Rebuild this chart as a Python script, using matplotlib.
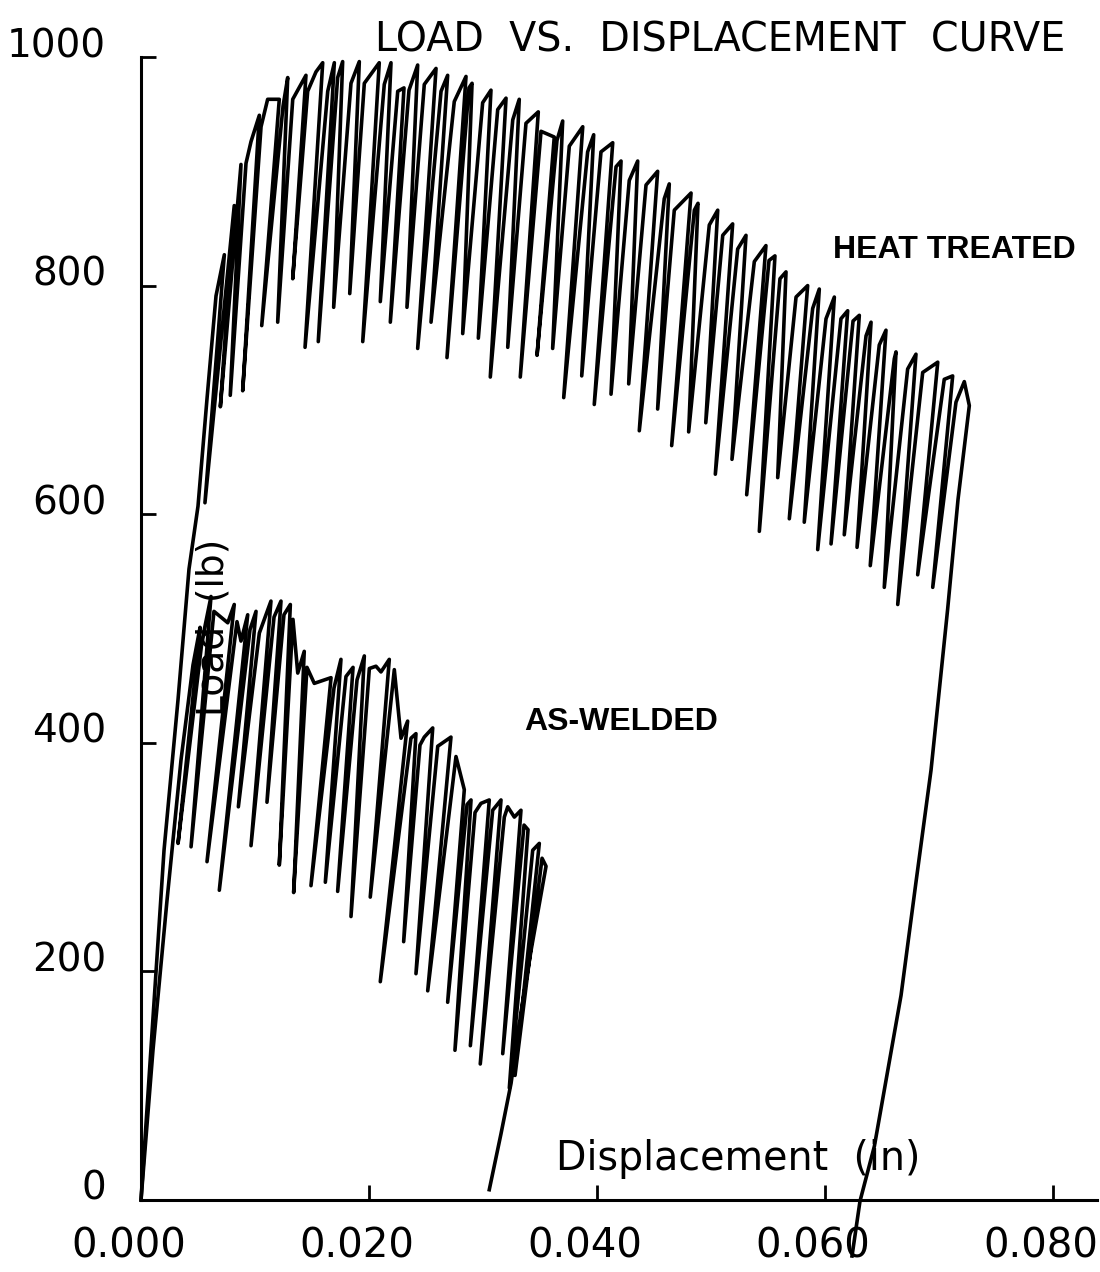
import matplotlib
matplotlib.use("Agg")
import matplotlib.pyplot as plt
import matplotlib.transforms as mtransforms

# heat treated specimen: load path in drawing order (peak -> unload -> reload ...)
ht_disp = [0.0, 0.00202, 0.00325, 0.00421, 0.00500, 0.00579, 0.00658,
           0.00731, 0.00561, 0.00818, 0.00696, 0.00877, 0.00783, 0.00921, 0.00965,
           0.01038, 0.00892, 0.01053, 0.01111, 0.01213, 0.01059, 0.01246,
           0.01287, 0.01199, 0.01331, 0.01447, 0.01331, 0.01462, 0.01535,
           0.01594, 0.01439, 0.01638, 0.01696, 0.01555, 0.01725, 0.01769, 0.01690,
           0.01842, 0.01915, 0.01831, 0.01959, 0.02090, 0.01945, 0.02134,
           0.02193, 0.02099, 0.02252, 0.02307, 0.02187, 0.02351, 0.02427, 0.02333,
           0.02485, 0.02588, 0.02427, 0.02632, 0.02690, 0.02544, 0.02748,
           0.02851, 0.02684, 0.02877, 0.02904, 0.02822, 0.02997, 0.03070, 0.02959,
           0.03129, 0.03202, 0.03064, 0.03261, 0.03318, 0.03217, 0.03377,
           0.03485, 0.03327, 0.03509, 0.03625, 0.03474, 0.03649, 0.03699, 0.03611,
           0.03757, 0.03875, 0.03708, 0.03918, 0.03971, 0.03866, 0.04035,
           0.04138, 0.03976, 0.04167, 0.04211, 0.04123, 0.04283, 0.04357, 0.04278,
           0.04430, 0.04532, 0.04371, 0.04590, 0.04634, 0.04532, 0.04678,
           0.04825, 0.04655, 0.04854, 0.04886, 0.04804, 0.04985, 0.05059, 0.04954,
           0.05103, 0.05190, 0.05038, 0.05234, 0.05307, 0.05184, 0.05380,
           0.05482, 0.05313, 0.05509, 0.05561, 0.05424, 0.05605, 0.05658, 0.05585,
           0.05746, 0.05848, 0.05687, 0.05892, 0.05950, 0.05818, 0.06009,
           0.06082, 0.05936, 0.06140, 0.06199, 0.06053, 0.06246, 0.06301, 0.06169,
           0.06360, 0.06404, 0.06281, 0.06476, 0.06535, 0.06397, 0.06608,
           0.06623, 0.06520, 0.06725, 0.06798, 0.06638, 0.06857, 0.06989, 0.06813,
           0.07046, 0.07120, 0.06945, 0.07149, 0.07222, 0.07266,
           0.07167, 0.07076, 0.06930, 0.06798, 0.06667, 0.06550, 0.06433, 0.06307, 0.06237]
ht_load = [0, 306, 438, 552, 607, 701, 791,
           827, 610, 870, 694, 906, 704, 907, 926,
           949, 708, 939, 963, 963, 765, 957,
           982, 768, 963, 984, 806, 970, 987,
           995, 746, 970, 995, 751, 982, 996, 781,
           977, 996, 793, 977, 995, 751, 976,
           995, 786, 970, 973, 768, 971, 993, 781,
           976, 990, 745, 970, 984, 768, 961,
           983, 737, 973, 977, 758, 960, 971, 754,
           954, 964, 720, 945, 963, 746, 942,
           952, 720, 935, 930, 739, 927, 944, 745,
           922, 939, 702, 917, 932, 721, 917,
           925, 696, 904, 909, 705, 892, 909, 714,
           888, 900, 673, 876, 889, 692, 866,
           881, 660, 866, 872, 672, 853, 866, 680,
           844, 854, 635, 832, 844, 648, 821,
           835, 617, 822, 826, 585, 806, 812, 632,
           790, 800, 596, 780, 797, 593, 771,
           790, 569, 771, 778, 574, 769, 774, 582,
           756, 768, 571, 748, 761, 555, 736,
           742, 536, 727, 740, 521, 724, 733, 547,
           718, 721, 536, 698, 716, 695,
           613, 517, 376, 278, 179, 113, 47, -1, -49]

# as-welded specimen
aw_disp = [0.0, 0.00105, 0.00228, 0.00351, 0.00456,
           0.00518, 0.00325, 0.00535, 0.00614, 0.00439, 0.00640, 0.00761,
           0.00818, 0.00579, 0.00842, 0.00877, 0.00936, 0.00687, 0.00956,
           0.01009, 0.00854, 0.01038, 0.01140, 0.00965, 0.01167,
           0.01228, 0.01105, 0.01254, 0.01310, 0.01213, 0.01333, 0.01375,
           0.01432, 0.01339, 0.01456, 0.01520, 0.01667, 0.01491, 0.01693,
           0.01754, 0.01617, 0.01798, 0.01860, 0.01725, 0.01895,
           0.01959, 0.01842, 0.02003, 0.02061, 0.02105,
           0.02178, 0.02011, 0.02222, 0.02281, 0.02339, 0.02099, 0.02368,
           0.02412, 0.02304, 0.02447, 0.02485, 0.02559, 0.02412, 0.02603,
           0.02719, 0.02515, 0.02763, 0.02836, 0.02690, 0.02860,
           0.02895, 0.02754, 0.02930, 0.02982, 0.03055, 0.02889, 0.03085,
           0.03158, 0.02976, 0.03187, 0.03217, 0.03275,
           0.03333, 0.03173, 0.03360, 0.03395, 0.03231, 0.03436,
           0.03494, 0.03281, 0.03518, 0.03553,
           0.03421, 0.03333, 0.03246, 0.03158, 0.03055]
aw_load = [0, 131, 262, 385, 468,
           501, 312, 489, 528, 309, 515, 505,
           521, 296, 506, 489, 512, 271, 499,
           515, 344, 496, 524, 310, 510,
           524, 348, 512, 521, 293, 508, 461,
           480, 269, 466, 452, 457, 275, 448,
           473, 278, 458, 466, 270, 455,
           476, 248, 465, 467, 462,
           473, 265, 464, 404, 419, 191, 404,
           408, 226, 398, 405, 413, 198, 397,
           405, 183, 388, 359, 173, 346,
           350, 131, 339, 347, 350, 135, 341,
           350, 119, 335, 344, 335,
           341, 128, 328, 324, 98, 306,
           312, 109, 299, 292,
           218, 164, 102, 58, 9]

x_ticks = [0.0, 0.02, 0.04, 0.06, 0.08]
x_labels = ["0.000", "0.020", "0.040", "0.060", "0.080"]
y_ticks = [0, 200, 400, 600, 800, 1000]

plt.rcParams['font.family'] = ['DejaVu Sans']

fig = plt.figure(figsize=(11, 12.72), dpi=100)
ax = fig.add_axes([141 / 1100, 72 / 1272, 956 / 1100, 1143 / 1272])

ax.plot(ht_disp, ht_load, color='black', lw=2.6, clip_on=False)
ax.plot(aw_disp, aw_load, color='black', lw=2.6, clip_on=False)

ax.set_xlim(0, 0.08386)
ax.set_ylim(0, 1000)
ax.spines['top'].set_visible(False)
ax.spines['right'].set_visible(False)
ax.spines['left'].set_linewidth(2.2)
ax.spines['bottom'].set_linewidth(2.2)

ax.set_xticks(x_ticks)
ax.set_xticklabels(x_labels)
ax.set_yticks(y_ticks)
ax.tick_params(axis='both', direction='in', length=11, width=2, labelsize=28)
ax.tick_params(axis='x', pad=19, labelsize=29)
ax.tick_params(axis='y', pad=25)
for lab in ax.get_yticklabels():
    lab.set_verticalalignment('baseline')
# x labels sit a little left of their ticks in the original
shift = mtransforms.ScaledTranslation(-12 / 100, 0, fig.dpi_scale_trans)
for lab in ax.get_xticklabels():
    lab.set_transform(lab.get_transform() + shift)

fig.text(375 / 1100, 1 - 51 / 1272, "LOAD  VS.  DISPLACEMENT  CURVE",
         fontsize=28.5, ha='left', va='baseline')

ax.text(0.0607, 831, "HEAT TREATED", fontsize=23, fontweight='bold',
        family='Liberation Sans', ha='left', va='center')
ax.text(0.0336, 418, "AS-WELDED", fontsize=23, fontweight='bold',
        family='Liberation Sans', ha='left', va='center')
ax.text(0.0064, 501, "Load  (lb)", fontsize=27, rotation=90,
        ha='center', va='center')
ax.text(0.0364, 36, "Displacement  (in)", fontsize=28.5, ha='left', va='center')

fig.savefig("out.png", dpi=100)
